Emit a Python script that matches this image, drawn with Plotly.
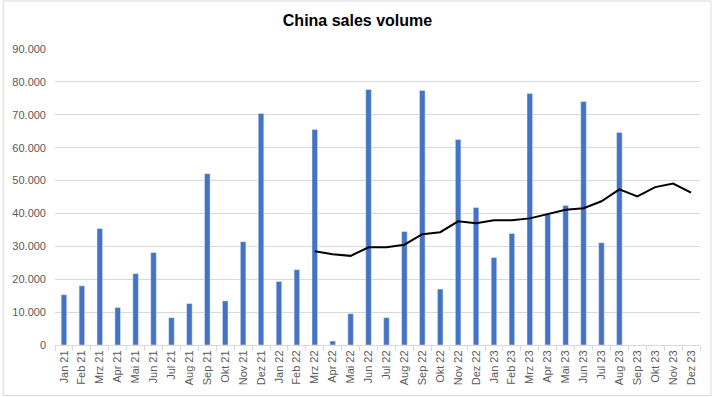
import plotly.graph_objects as go

months = ["Jan 21", "Feb 21", "Mrz 21", "Apr 21", "Mai 21", "Jun 21", "Jul 21", "Aug 21",
          "Sep 21", "Okt 21", "Nov 21", "Dez 21",
          "Jan 22", "Feb 22", "Mrz 22", "Apr 22", "Mai 22", "Jun 22", "Jul 22", "Aug 22",
          "Sep 22", "Okt 22", "Nov 22", "Dez 22",
          "Jan 23", "Feb 23", "Mrz 23", "Apr 23", "Mai 23", "Jun 23", "Jul 23", "Aug 23",
          "Sep 23", "Okt 23", "Nov 23", "Dez 23"]

sales = [15300, 18000, 35400, 11400, 21700, 28100, 8300, 12600,
         52100, 13400, 31400, 70400,
         19300, 22900, 65500, 1200, 9500, 77700, 8300, 34500,
         77400, 17000, 62500, 41800,
         26600, 33900, 76500, 39700, 42400, 74000, 31100, 64600,
         None, None, None, None]

trend = [None] * 14 + [28500, 27600, 27100, 29700, 29700, 30500,
                        33700, 34300, 37600, 37000, 37900, 37900,
                        38500, 39800, 41100, 41600, 43700, 47300,
                        45200, 48000, 49100, 46300]

y_ticks = [0, 10000, 20000, 30000, 40000, 50000, 60000, 70000, 80000, 90000]

fig = go.Figure()
fig.add_trace(go.Bar(x=months, y=sales, marker_color="#4472C4", name="Sales",
                     hoverinfo="x+y"))
fig.add_trace(go.Scatter(x=months, y=trend, mode="lines",
                         line=dict(color="#000000", width=2), name="Trend"))

fig.update_layout(
    width=715, height=397,
    margin=dict(l=53, r=15, t=49, b=52),
    paper_bgcolor="white", plot_bgcolor="white",
    showlegend=False,
    bargap=0.69,
    separators=",.",
    font=dict(family="Liberation Sans, Arial, sans-serif", color="#595959", size=11),
    title=dict(text="<b>China sales volume</b>", x=0.5, xanchor="center",
               y=1 - 20 / 397, yanchor="middle", yref="container",
               font=dict(family="Liberation Sans, Arial, sans-serif", size=16, color="#000000")),
)
fig.update_xaxes(
    type="category", tickangle=-90, tickson="boundaries", ticks="outside",
    ticklen=5, tickcolor="#d9d9d9", showline=True, linecolor="#d9d9d9",
    showgrid=False, tickfont=dict(size=11, color="#595959"),
)
fig.update_yaxes(
    range=[0, 90000], tickvals=y_ticks, tickformat=",d", showgrid=True,
    gridcolor="#d9d9d9", gridwidth=1, zeroline=False, showline=False,
    ticks="", tickfont=dict(size=11, color="#595959"), ticklabelstandoff=8,
)

fig.add_shape(type="rect", xref="paper", yref="paper",
              x0=(1 - 53) / 647, x1=(711 - 53) / 647,
              y0=(345 - 395.5) / 296, y1=(345 - 1) / 296,
              line=dict(color="#d9d9d9", width=1), fillcolor="rgba(0,0,0,0)",
              layer="below")

fig.write_html("out.html", config={"displayModeBar": False},
               post_script="document.body.style.margin='0';document.body.style.overflow='hidden';")
